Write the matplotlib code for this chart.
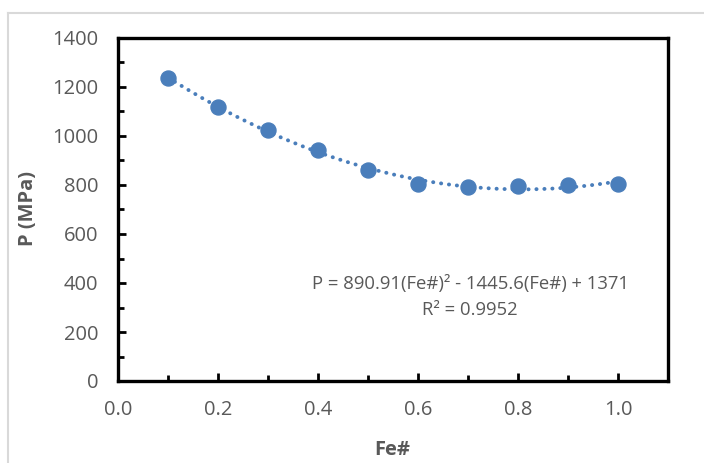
import numpy as np
import matplotlib.pyplot as plt
from matplotlib.ticker import MultipleLocator, FormatStrFormatter
from matplotlib.lines import Line2D

# data
fe = [0.1, 0.2, 0.3, 0.4, 0.5, 0.6, 0.7, 0.8, 0.9, 1.0]
pressure = [1237, 1118, 1024, 943, 861, 804, 793, 797, 800, 804]

eq_text = "P = 890.91(Fe#)² - 1445.6(Fe#) + 1371"
r2_text = "R² = 0.9952"

blue = '#4A7EBB'
grey = '#595959'

plt.rcParams['font.family'] = ['Open Sans', 'DejaVu Sans']

fig = plt.figure(figsize=(7.04, 4.63), dpi=100)
ax = fig.add_axes([118/704, 1 - 381/463, 550/704, 343/463])

# polynomial trendline (2nd order) fitted to the points
coef = np.polyfit(fe, pressure, 2)
xs = np.linspace(min(fe), max(fe), 200)
ax.plot(xs, np.polyval(coef, xs), color=blue, lw=2.8,
        linestyle=(0, (0.05, 2.0)), dash_capstyle='round', zorder=2)

ax.plot(fe, pressure, 'o', color=blue, ms=10.8, mec=blue, zorder=3)

ax.set_xlim(0, 1.1)
ax.set_ylim(0, 1400)
ax.xaxis.set_major_locator(MultipleLocator(0.2))
ax.xaxis.set_minor_locator(MultipleLocator(0.1))
ax.yaxis.set_major_locator(MultipleLocator(200))
ax.yaxis.set_minor_locator(MultipleLocator(100))
ax.xaxis.set_major_formatter(FormatStrFormatter('%.1f'))

for s in ax.spines.values():
    s.set_linewidth(2.4)
    s.set_color('black')

ax.tick_params(which='major', direction='in', length=5.5, width=2,
               labelsize=14.5, labelcolor=grey, pad=14)
ax.tick_params(which='minor', direction='in', length=4, width=2)
ax.tick_params(top=False, right=False, which='both')

# axis titles
fig.text(28/704, 1 - 208/463, "P (MPa)", fontsize=14.5, fontweight='bold',
         color=grey, rotation=90, ha='center', va='center')
fig.text(392/704, 1 - 450/463, "Fe#", fontsize=14.5, fontweight='bold',
         color=grey, ha='center', va='center')

# trendline label
ax.text(0.704, 396, eq_text, fontsize=13.3, color=grey, ha='center', va='center')
ax.text(0.704, 290, r2_text, fontsize=13.3, color=grey, ha='center', va='center')

# light grey chart-area border (top and left visible)
fig.add_artist(Line2D([8/704, 1], [1 - 13/463, 1 - 13/463], color='#d9d9d9', lw=1.5))
fig.add_artist(Line2D([8/704, 8/704], [0, 1 - 13/463], color='#d9d9d9', lw=1.5))

fig.savefig('out.png', dpi=100)
